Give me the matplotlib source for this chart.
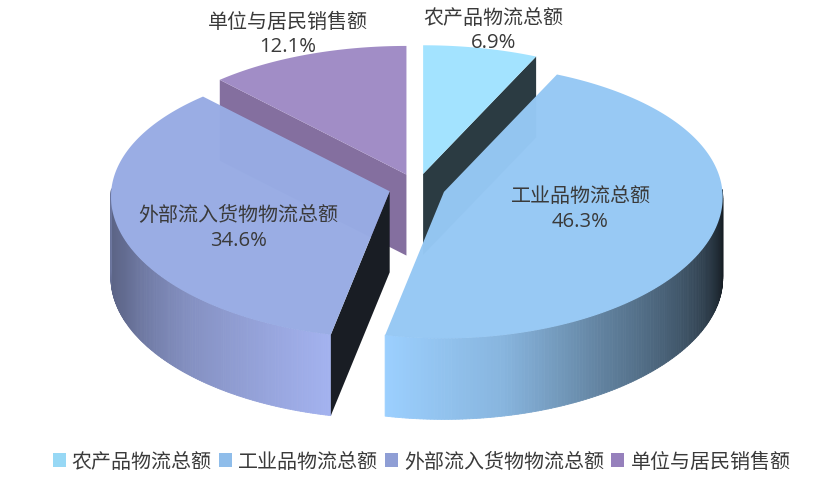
#!/usr/bin/env python3
import numpy as np
import matplotlib
matplotlib.use("Agg")
import matplotlib.pyplot as plt
from matplotlib.collections import PolyCollection
from matplotlib.patches import Patch, Polygon

plt.rcParams['font.family'] = ['Open Sans', 'Noto Sans CJK SC', 'DejaVu Sans']

categories = ["农产品物流总额", "工业品物流总额", "外部流入货物物流总额", "单位与居民销售额"]
values = [6.9, 46.3, 34.6, 12.1]
pct_labels = ["6.9%", "46.3%", "34.6%", "12.1%"]

top_colors = ["#A2E3FF", "#96C8F4", "#98ACE4", "#A08BC5"]
cut_colors = ["#2B3B42", "#1B2A35", "#191D24", "#846F9F"]
wall_colors = ["#A2E3FF", "#9CD0FF", "#A4B3F0", "#A08BC5"]
legend_colors = ["#97D8F5", "#8FBDEA", "#8F9ED5", "#9680BC"]

# pie geometry, in pixels
CX, CY = 417, 188.5
RX, RY = 278.5, 137
PERSP_X = 0.04
PERSP_Y = 0.065
EXPLODE = 0.102
DEPTH = 81
TEXT = "#3A3A3A"

# which cut face shows for each slice: 0 = start edge, 1 = end edge, None = hidden
visible_cut = [1, None, 0, 0]


def rim(theta):
    # theta is clockwise from 12 o'clock, radians
    c = np.cos(theta)
    return RX * np.sin(theta) / (1 + PERSP_X * c), -RY * c / (1 + PERSP_Y * c)


def shade(i, deg):
    if i == 1:
        return np.interp(deg, [92, 100, 122, 146, 168, 192], [0.12, 0.18, 0.40, 0.62, 0.87, 1.0])
    if i == 2:
        return np.interp(deg, [191, 225, 250, 262, 275], [1.0, 0.8, 0.6, 0.56, 0.72])
    return np.ones_like(deg)


fig = plt.figure(figsize=(8.3, 4.85), dpi=100)
ax = fig.add_axes([0, 0, 1, 1])
ax.set_xlim(0, 830)
ax.set_ylim(485, 0)
ax.axis("off")

fracs = np.array(values) / sum(values) * 2 * np.pi
ends = np.cumsum(fracs)
starts = ends - fracs


def draw_slice(i):
    t0, t1 = starts[i], ends[i]
    mid = (t0 + t1) / 2
    ax0 = CX + EXPLODE * RX * np.sin(mid)
    ay0 = CY - EXPLODE * RX * 0.49 * np.cos(mid)
    th = np.linspace(t0, t1, 240)
    dx, dy = rim(th)
    xs, ys = ax0 + dx, ay0 + dy

    # outer wall, only the part turned towards the viewer
    front = np.cos(th) < 0.02
    if front.any():
        base = np.array(matplotlib.colors.to_rgb(wall_colors[i]))
        fx, fy, fth = xs[front], ys[front], th[front]
        quads = [[(fx[k], fy[k]), (fx[k + 1], fy[k + 1]), (fx[k + 1], fy[k + 1] + DEPTH), (fx[k], fy[k] + DEPTH)]
                 for k in range(len(fx) - 1)]
        cols = [base * s for s in shade(i, np.degrees(fth[:-1]))]
        ax.add_collection(PolyCollection(quads, facecolors=cols, edgecolors=cols, linewidths=0.6))

    # cut face
    if visible_cut[i] is not None:
        k = -visible_cut[i]
        ex, ey = xs[k], ys[k]
        ax.add_patch(Polygon([(ax0, ay0), (ex, ey), (ex, ey + DEPTH), (ax0, ay0 + DEPTH)],
                             facecolor=cut_colors[i], edgecolor="none"))

    # top face
    pts = np.column_stack([np.r_[ax0, xs], np.r_[ay0, ys]])
    ax.add_patch(Polygon(pts, facecolor=top_colors[i], edgecolor="none", alpha=0.985))


for i in [3, 0, 2, 1]:
    draw_slice(i)

label_pos = [(493.5, 18.5), (580.5, 197.5), (238, 216.5), (288, 22.5)]
for name, pct, (x, y) in zip(categories, pct_labels, label_pos):
    ax.text(x, y, name, ha="center", va="center", fontsize=14.4, color=TEXT)
    ax.text(x, y + 24.5, pct, ha="center", va="center", fontsize=14.6, color=TEXT)

handles = [Patch(facecolor=c, edgecolor="none") for c in legend_colors]
ax.legend(handles, categories, loc="center", bbox_to_anchor=(421.5 / 830, 1 - 463 / 485), ncol=4,
          frameon=False, fontsize=14.4, labelcolor=TEXT, handlelength=0.66, handleheight=0.66,
          handletextpad=0.3, columnspacing=0.35, borderpad=0, borderaxespad=0)

fig.savefig("out.png", dpi=100)
